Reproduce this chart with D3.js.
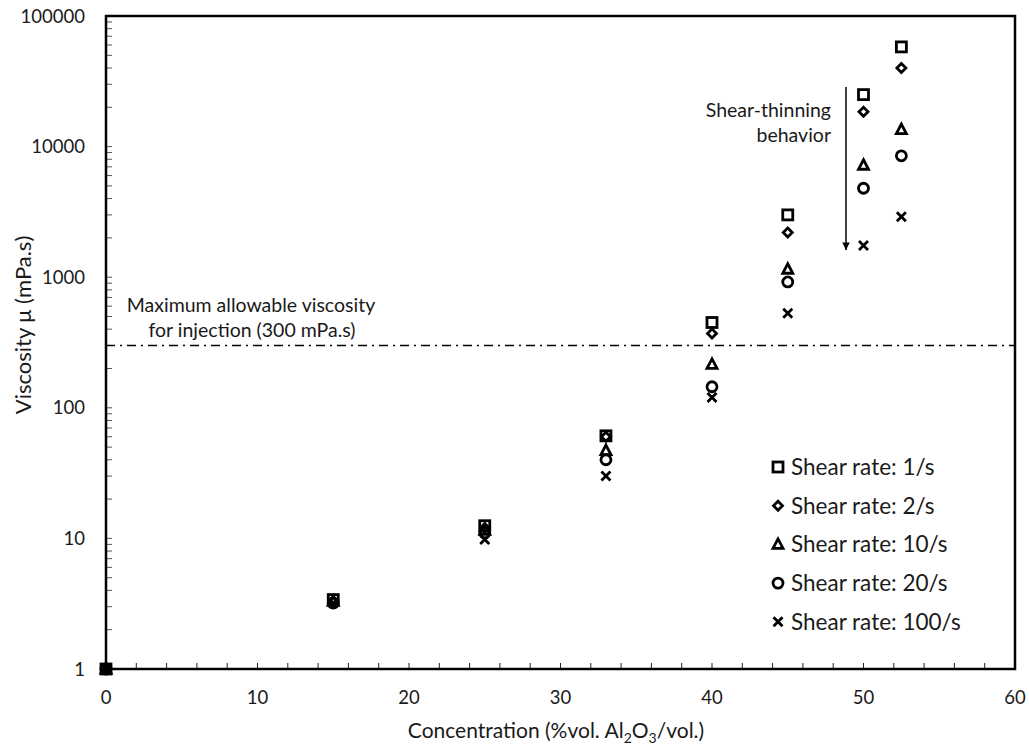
<!DOCTYPE html>
<html>
<head>
<meta charset="utf-8">
<script src="https://cdn.jsdelivr.net/npm/d3@7"></script>
<style>
  body { margin: 0; background: #fff; }
  text { font-family: Lato, "Open Sans", sans-serif; fill: #1a1a1a; }
</style>
</head>
<body>
<script>
// data
const concentrations = [0, 15, 25, 33, 40, 45, 50, 52.5];
const rate1 = [1, 3.4, 12.5, 61, 450, 3000, 25000, 58000];
const rate2 = [1, 3.3, 12, 60, 370, 2200, 18500, 40000];
const rate10 = [1, 3.3, 11.5, 47, 215, 1150, 7200, 13500];
const rate20 = [1, 3.2, 11, 40, 145, 920, 4800, 8500];
const rate100 = [1, 3.2, 9.8, 30, 120, 530, 1750, 2900];
const seriesNames = ['Shear rate: 1/s', 'Shear rate: 2/s', 'Shear rate: 10/s', 'Shear rate: 20/s', 'Shear rate: 100/s'];
const seriesShapes = ['square', 'diamond', 'triangle', 'circle', 'cross'];
const xTicks = [0, 10, 20, 30, 40, 50, 60];
const yTicks = [1, 10, 100, 1000, 10000, 100000];
const limitValue = 300;

const series = [rate1, rate2, rate10, rate20, rate100].map((vals, i) => ({
    name: seriesNames[i],
    shape: seriesShapes[i],
    points: vals.map((v, j) => ({ x: concentrations[j], y: v }))
}));

const svg = d3.select('body').append('svg')
    .attr('width', 1029)
    .attr('height', 745);

const pLeft = 106, pRight = 1015, pTop = 16, pBottom = 669;

const x = d3.scaleLinear().domain([0, 60]).range([pLeft, pRight]);
const y = d3.scaleLog().domain([1, 100000]).range([pBottom, pTop]);

// minor ticks, inside
const xMinor = d3.range(2, 60, 2);
svg.selectAll('.xminor').data(xMinor).enter().append('line')
    .attr('x1', d => x(d)).attr('x2', d => x(d))
    .attr('y1', pBottom).attr('y2', pBottom - 6)
    .attr('stroke', '#222').attr('stroke-width', 1);

let yMinor = [];
for (let e = 0; e < 5; e++) {
    for (let m = 2; m <= 10; m++) yMinor.push(m * Math.pow(10, e));
}
svg.selectAll('.yminor').data(yMinor).enter().append('line')
    .attr('x1', pLeft).attr('x2', pLeft + 6)
    .attr('y1', d => y(d)).attr('y2', d => y(d))
    .attr('stroke', '#555').attr('stroke-width', 1);

// frame
svg.append('rect')
    .attr('x', pLeft).attr('y', pTop)
    .attr('width', pRight - pLeft).attr('height', pBottom - pTop)
    .attr('fill', 'none').attr('stroke', '#000').attr('stroke-width', 2.5);

// tick labels
svg.selectAll('.xlab').data(xTicks).enter().append('text')
    .attr('x', d => x(d)).attr('y', pBottom + 35)
    .attr('text-anchor', 'middle').attr('font-size', 18.5)
    .text(d => d);

svg.selectAll('.ylab').data(yTicks).enter().append('text')
    .attr('x', 85).attr('y', d => y(d) + 6.5)
    .attr('text-anchor', 'end').attr('font-size', 18.5)
    .text(d => d);

// axis titles
svg.append('text')
    .attr('x', 556).attr('y', 738)
    .attr('text-anchor', 'middle').attr('font-size', 21)
    .html('Concentration (%vol. Al<tspan dy="5" font-size="14">2</tspan><tspan dy="-5">O</tspan><tspan dy="5" font-size="14">3</tspan><tspan dy="-5">/vol.)</tspan>');

svg.append('text')
    .attr('transform', 'translate(31,325) rotate(-90)')
    .attr('text-anchor', 'middle').attr('font-size', 22)
    .text('Viscosity μ (mPa.s)');

// limit line
svg.append('line')
    .attr('x1', pLeft).attr('x2', pRight)
    .attr('y1', y(limitValue)).attr('y2', y(limitValue))
    .attr('stroke', '#000').attr('stroke-width', 1.5)
    .attr('stroke-dasharray', '9,5,2,5');

svg.append('text')
    .attr('x', 251).attr('y', 312)
    .attr('text-anchor', 'middle').attr('font-size', 19.5)
    .text('Maximum allowable viscosity');
svg.append('text')
    .attr('x', 252).attr('y', 337)
    .attr('text-anchor', 'middle').attr('font-size', 19.5)
    .text('for injection (300 mPa.s)');

// arrow
svg.append('defs').append('marker')
    .attr('id', 'arr').attr('viewBox', '0 0 10 10')
    .attr('refX', 10).attr('refY', 5)
    .attr('markerWidth', 6).attr('markerHeight', 5)
    .attr('orient', 'auto')
  .append('path').attr('d', 'M0,0L10,5L0,10z').attr('fill', '#000');

svg.append('line')
    .attr('x1', 846).attr('x2', 846)
    .attr('y1', 87).attr('y2', 250)
    .attr('stroke', '#000').attr('stroke-width', 1.5)
    .attr('marker-end', 'url(#arr)');

svg.append('text')
    .attr('x', 831).attr('y', 117)
    .attr('text-anchor', 'end').attr('font-size', 19.5)
    .text('Shear-thinning');
svg.append('text')
    .attr('x', 831).attr('y', 142)
    .attr('text-anchor', 'end').attr('font-size', 19.5)
    .text('behavior');

// markers
function drawMarker(g, shape) {
    if (shape == 'square') {
        g.append('rect').attr('x', -5).attr('y', -5).attr('width', 10).attr('height', 10)
            .attr('fill', 'none').attr('stroke', '#000').attr('stroke-width', 2.8);
    } else if (shape == 'diamond') {
        g.append('path').attr('d', 'M0,-4.5L4.5,0L0,4.5L-4.5,0Z')
            .attr('fill', 'none').attr('stroke', '#000').attr('stroke-width', 2.8);
    } else if (shape == 'triangle') {
        g.append('path').attr('d', 'M0,-5.5L5,4L-5,4Z')
            .attr('fill', 'none').attr('stroke', '#000').attr('stroke-width', 2.8);
    } else if (shape == 'circle') {
        g.append('circle').attr('r', 5)
            .attr('fill', 'none').attr('stroke', '#000').attr('stroke-width', 2.8);
    } else {
        g.append('path').attr('d', 'M-4.5,-4.5L4.5,4.5M-4.5,4.5L4.5,-4.5')
            .attr('stroke', '#000').attr('stroke-width', 2.8);
    }
}

series.forEach(s => {
    svg.append('g').selectAll('g')
        .data(s.points)
        .enter()
      .append('g')
        .attr('transform', d => 'translate(' + x(d.x) + ',' + y(d.y) + ')')
        .each(function () { drawMarker(d3.select(this), s.shape); });
});

// legend
const legend = svg.append('g').selectAll('g')
    .data(series)
    .enter()
  .append('g')
    .attr('transform', (d, i) => 'translate(778,' + (467 + i * 38.7) + ')');

legend.each(function (d) { drawMarker(d3.select(this), d.shape); });
legend.append('text')
    .attr('x', 13).attr('y', 8)
    .attr('font-size', 22.5)
    .text(d => d.name);
</script>
</body>
</html>
